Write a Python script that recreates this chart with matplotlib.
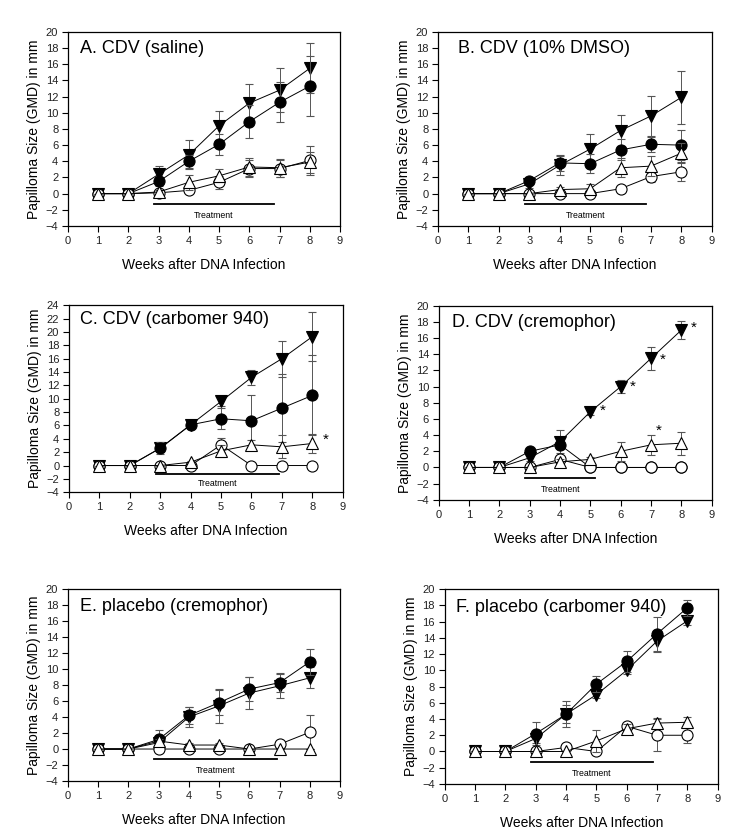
import numpy as np
import matplotlib
matplotlib.use("Agg")
import matplotlib.pyplot as plt

plt.rcParams['font.family'] = ['Liberation Sans', 'DejaVu Sans']

weeks = [1, 2, 3, 4, 5, 6, 7, 8]

# Series per panel: filled down-triangle, filled circle, open up-triangle, open circle
titles = ["A. CDV (saline)", "B. CDV (10% DMSO)", "C. CDV (carbomer 940)",
          "D. CDV (cremophor)", "E. placebo (cremophor)", "F. placebo (carbomer 940)"]

tri_fill = [
    [0, 0, 2.4, 4.8, 8.4, 11.2, 12.8, 15.5],
    [0, 0, 1.2, 3.5, 5.5, 7.8, 9.6, 11.9],
    [0, 0, 2.6, 6.1, 9.6, 13.2, 16.0, 19.3],
    [0, 0, 1.2, 3.2, 6.9, 10.0, 13.5, 17.0],
    [0, 0, 0.8, 4.0, 5.4, 7.0, 7.9, 8.9],
    [0, 0, 1.6, 4.6, 7.0, 10.0, 13.6, 16.1],
]
tri_fill_err = [
    [0, 0, 1.0, 1.8, 1.8, 2.4, 2.7, 3.1],
    [0, 0, 0.5, 1.2, 1.9, 1.9, 2.5, 3.3],
    [0, 0, 0.6, 0.3, 0.7, 1.1, 2.7, 3.7],
    [0, 0, 0.4, 1.4, 0.4, 0.8, 1.4, 1.1],
    [0, 0, 0.5, 1.3, 2.1, 2.0, 1.5, 1.3],
    [0, 0, 0.6, 1.1, 0.4, 0.5, 1.3, 0.5],
]
circ_fill = [
    [0, 0, 1.5, 4.0, 6.1, 8.9, 11.3, 13.3],
    [0, 0, 1.6, 3.8, 3.7, 5.4, 6.1, 6.0],
    [0, 0, 2.6, 6.1, 7.0, 6.7, 8.6, 10.5],
    [0, 0, 2.0, 2.8, 0, 0, 0, 0],
    [0, 0, 1.2, 4.2, 5.8, 7.5, 8.3, 10.9],
    [0, 0, 2.2, 4.6, 8.3, 11.1, 14.5, 17.7],
]
circ_fill_err = [
    [0, 0, 0.5, 0.8, 1.3, 2.0, 2.5, 3.7],
    [0, 0, 0.4, 1.0, 1.2, 1.3, 0.9, 1.9],
    [0, 0, 0.9, 0.3, 1.6, 3.9, 5.1, 6.0],
    [0, 0, 0.3, 0.5, 0, 0, 0, 0],
    [0, 0, 1.2, 1.1, 1.6, 1.5, 1.2, 1.6],
    [0, 0, 1.4, 1.6, 1.0, 1.3, 2.1, 1.0],
]
tri_open = [
    [0, 0, 0.2, 1.4, 2.2, 3.3, 3.2, 3.9],
    [0, 0, 0.0, 0.5, 0.6, 3.2, 3.4, 5.0],
    [0, 0, 0.0, 0.5, 2.2, 3.1, 2.8, 3.3],
    [0, 0, 0.0, 0.7, 1.0, 2.0, 2.8, 3.0],
    [0, 0, 1.0, 0.5, 0.5, 0.0, 0.0, 0.0],
    [0, 0, 0.0, 0.0, 1.3, 2.8, 3.5, 3.6],
]
tri_open_err = [
    [0, 0, 0.2, 0.9, 0.8, 1.1, 1.1, 1.3],
    [0, 0, 0.0, 0.3, 0.6, 1.2, 1.2, 1.2],
    [0, 0, 0.0, 0.2, 0.9, 0.7, 1.7, 1.4],
    [0, 0, 0.0, 0.3, 0.3, 1.2, 1.2, 1.4],
    [0, 0, 0.2, 0.2, 0.2, 0.0, 0.0, 0.0],
    [0, 0, 0.0, 0.0, 1.4, 0.6, 0.6, 0.7],
]
circ_open = [
    [0, 0, 0.1, 0.4, 1.4, 3.1, 3.1, 4.1],
    [0, 0, 0.0, 0.0, 0.0, 0.6, 2.1, 2.7],
    [0, 0, 0.0, 0.0, 3.1, 0.0, 0.0, 0.0],
    [0, 0, 0.0, 1.0, 0.0, 0.0, 0.0, 0.0],
    [0, 0, 0.0, 0.0, 0.0, 0.0, 0.6, 2.1],
    [0, 0, 0.0, 0.5, 0.0, 3.1, 2.0, 2.0],
]
circ_open_err = [
    [0, 0, 0.1, 0.3, 0.8, 1.0, 1.1, 1.8],
    [0, 0, 0.0, 0.0, 0.0, 0.2, 0.7, 1.2],
    [0, 0, 0.0, 0.0, 1.0, 0.0, 0.0, 0.0],
    [0, 0, 0.0, 0.4, 0.0, 0.0, 0.0, 0.0],
    [0, 0, 0.0, 0.0, 0.0, 0.0, 0.3, 2.1],
    [0, 0, 0.0, 0.2, 0.0, 0.4, 2.0, 1.0],
]

ymax = [20, 20, 24, 20, 20, 20]
treat_end = [6.8, 6.85, 6.9, 5.15, 6.9, 6.85]

# asterisk annotations (panel index, x, y)
asterisks = [(2, 8.45, 3.9), (3, 5.4, 7.0), (3, 6.4, 10.0), (3, 7.4, 13.3),
             (3, 8.4, 17.3), (3, 7.25, 4.5)]

# axes rectangles in figure fractions
rects = [
    [0.0907, 0.731, 0.3627, 0.231],
    [0.584, 0.731, 0.365, 0.231],
    [0.092, 0.414, 0.365, 0.2226],
    [0.585, 0.405, 0.364, 0.231],
    [0.0907, 0.0702, 0.3627, 0.2286],
    [0.593, 0.0667, 0.364, 0.232],
]
title_pos = [(0.045, 0.892), (0.073, 0.892), (0.039, 0.90), (0.049, 0.892),
             (0.045, 0.883), (0.043, 0.88)]

fig = plt.figure(figsize=(7.5, 8.4), dpi=100)

styles = [
    (tri_fill, tri_fill_err, dict(marker='v', mfc='black', mec='black')),
    (circ_fill, circ_fill_err, dict(marker='o', mfc='black', mec='black')),
    (circ_open, circ_open_err, dict(marker='o', mfc='white', mec='black')),
    (tri_open, tri_open_err, dict(marker='^', mfc='white', mec='black')),
]

for i in range(6):
    ax = fig.add_axes(rects[i])
    for z, (vals, errs, st) in enumerate(styles):
        ax.errorbar(weeks, vals[i], yerr=errs[i], color='black', lw=0.7,
                    ecolor='#555555', elinewidth=0.7, capsize=3, capthick=0.7,
                    ms=8, mew=0.8, zorder=3 + z, **st)
    ax.plot([2.85, treat_end[i]], [-1.3, -1.3], color='black', lw=1.3)
    ax.text((2.85 + treat_end[i]) / 2, -2.7, "Treatment", fontsize=6.3,
            ha='center', va='center')
    ax.text(title_pos[i][0], title_pos[i][1], titles[i], transform=ax.transAxes,
            fontsize=13, ha='left', va='baseline')
    ax.set_xlim(0, 9)
    ax.set_ylim(-4, ymax[i])
    ax.set_xticks(range(0, 10))
    ax.set_yticks(range(-4, ymax[i] + 1, 2))
    ax.tick_params(labelsize=8, length=4, width=0.8, direction='out',
                   top=False, right=False, pad=3, labelcolor='#222222')
    for s in ax.spines.values():
        s.set_linewidth(0.9)
    ax.set_xlabel("Weeks after DNA Infection", fontsize=10, labelpad=9)
    ax.set_ylabel("Papilloma Size (GMD) in mm", fontsize=10, labelpad=3)

for (p, x, y) in asterisks:
    ax = fig.axes[p]
    ax.text(x, y, "*", fontsize=11, ha='center', va='center')

fig.savefig("out.png", dpi=100)
